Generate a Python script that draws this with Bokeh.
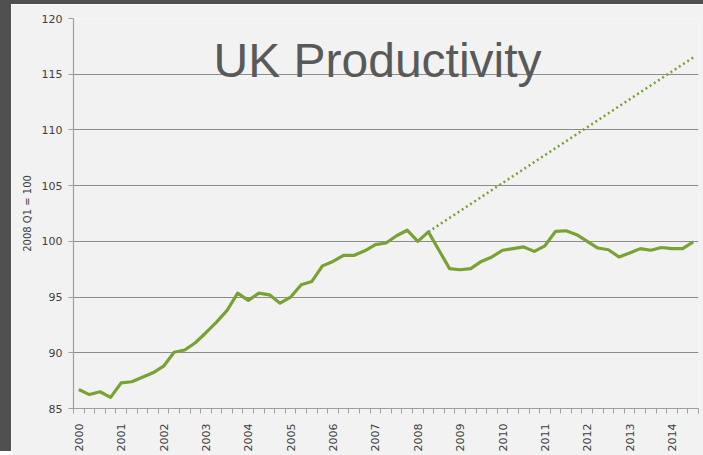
import math
from bokeh.plotting import figure
from bokeh.models import FixedTicker, Label
from bokeh.embed import file_html
from bokeh.resources import INLINE

years = ["2000", "2001", "2002", "2003", "2004", "2005", "2006", "2007",
         "2008", "2009", "2010", "2011", "2012", "2013", "2014"]

# Quarterly productivity, 2000 Q1 .. 2014 Q3 (2008 Q1 = 100)
productivity = [
    86.7, 86.25, 86.5, 86.0,
    87.3, 87.4, 87.8, 88.2,
    88.8, 90.05, 90.25, 90.9,
    91.8, 92.75, 93.8, 95.35,
    94.7, 95.35, 95.2, 94.45,
    95.0, 96.1, 96.4, 97.8,
    98.2, 98.75, 98.75, 99.15,
    99.7, 99.85, 100.5, 101.0,
    100.0, 100.85, 99.2, 97.55,
    97.45, 97.55, 98.2, 98.6,
    99.2, 99.35, 99.5, 99.1,
    99.6, 100.9, 100.95, 100.6,
    100.0, 99.4, 99.25, 98.6,
    98.95, 99.35, 99.2, 99.45,
    99.35, 99.35, 99.95,
]

# Pre-crisis trend continuation (dotted): quarter index and value
trend_quarter = [33, 58]
trend_value = [100.85, 116.5]

y_ticks = [85, 90, 95, 100, 105, 110, 115, 120]

quarter_index = list(range(len(productivity)))
year_positions = [4 * i for i in range(len(years))]
quarter_bounds = [q - 0.5 for q in range(len(productivity) + 1)]

GREEN = "#7aa134"
BG = "#f2f2f2"
DARK = "#505050"

p = figure(width=692, height=451, output_backend="svg", toolbar_location=None,
           x_range=(-0.5, len(productivity) - 0.5), y_range=(85, 120),
           min_border_left=62, min_border_right=5, min_border_top=14,
           min_border_bottom=47)
# dark slide frame at the left and top edges (shadows drawn behind the plot)
p.styles = {"position": "relative", "left": "11px", "top": "4px",
            "box-shadow": "-11px -4px 0px 0px " + DARK + ", 0px -4px 0px 0px " + DARK}

p.background_fill_color = BG
p.border_fill_color = BG
p.outline_line_color = None

p.xgrid.visible = False
p.ygrid.ticker = FixedTicker(ticks=y_ticks)
p.ygrid.grid_line_color = "#8c8c8c"
p.ygrid.grid_line_width = 1.2

xa = p.xaxis[0]
xa.ticker = FixedTicker(ticks=year_positions, minor_ticks=quarter_bounds)
xa.major_label_overrides = {pos: yr for pos, yr in zip(year_positions, years)}
xa.major_label_orientation = math.pi / 2
xa.major_tick_out = 0
xa.major_tick_in = 0
xa.minor_tick_out = 5
xa.minor_tick_in = 0
xa.minor_tick_line_color = "#a0a0a0"
xa.axis_line_color = "#a0a0a0"
xa.axis_line_width = 1.2
xa.major_label_standoff = 10
xa.major_label_text_font = "DejaVu Sans"
xa.major_label_text_font_size = "11px"
xa.major_label_text_color = "#404040"

ya = p.yaxis[0]
ya.ticker = FixedTicker(ticks=y_ticks)
ya.major_tick_out = 5
ya.major_tick_in = 0
ya.minor_tick_out = 0
ya.minor_tick_in = 0
ya.major_tick_line_color = "#a0a0a0"
ya.axis_line_color = "#a0a0a0"
ya.axis_line_width = 1.2
ya.major_label_standoff = 6
ya.major_label_text_font = "DejaVu Sans"
ya.major_label_text_font_size = "11px"
ya.major_label_text_color = "#404040"
ya.axis_label = "2008 Q1 = 100"
ya.axis_label_text_font = "DejaVu Sans"
ya.axis_label_text_font_size = "10px"
ya.axis_label_text_font_style = "normal"
ya.axis_label_text_color = "#404040"
ya.axis_label_standoff = 6

p.line(trend_quarter, trend_value, line_color=GREEN, line_width=2.5,
       line_dash="2 3")
p.line(quarter_index, productivity, line_color=GREEN, line_width=3.2,
       line_join="round")

title = Label(x=28.2, y=116.2, text="UK Productivity",
              text_font="Liberation Sans", text_font_size="48px",
              text_color="#595959", text_align="center",
              text_baseline="alphabetic")
p.add_layout(title)

open("out.html", "w").write(file_html(p, INLINE))
